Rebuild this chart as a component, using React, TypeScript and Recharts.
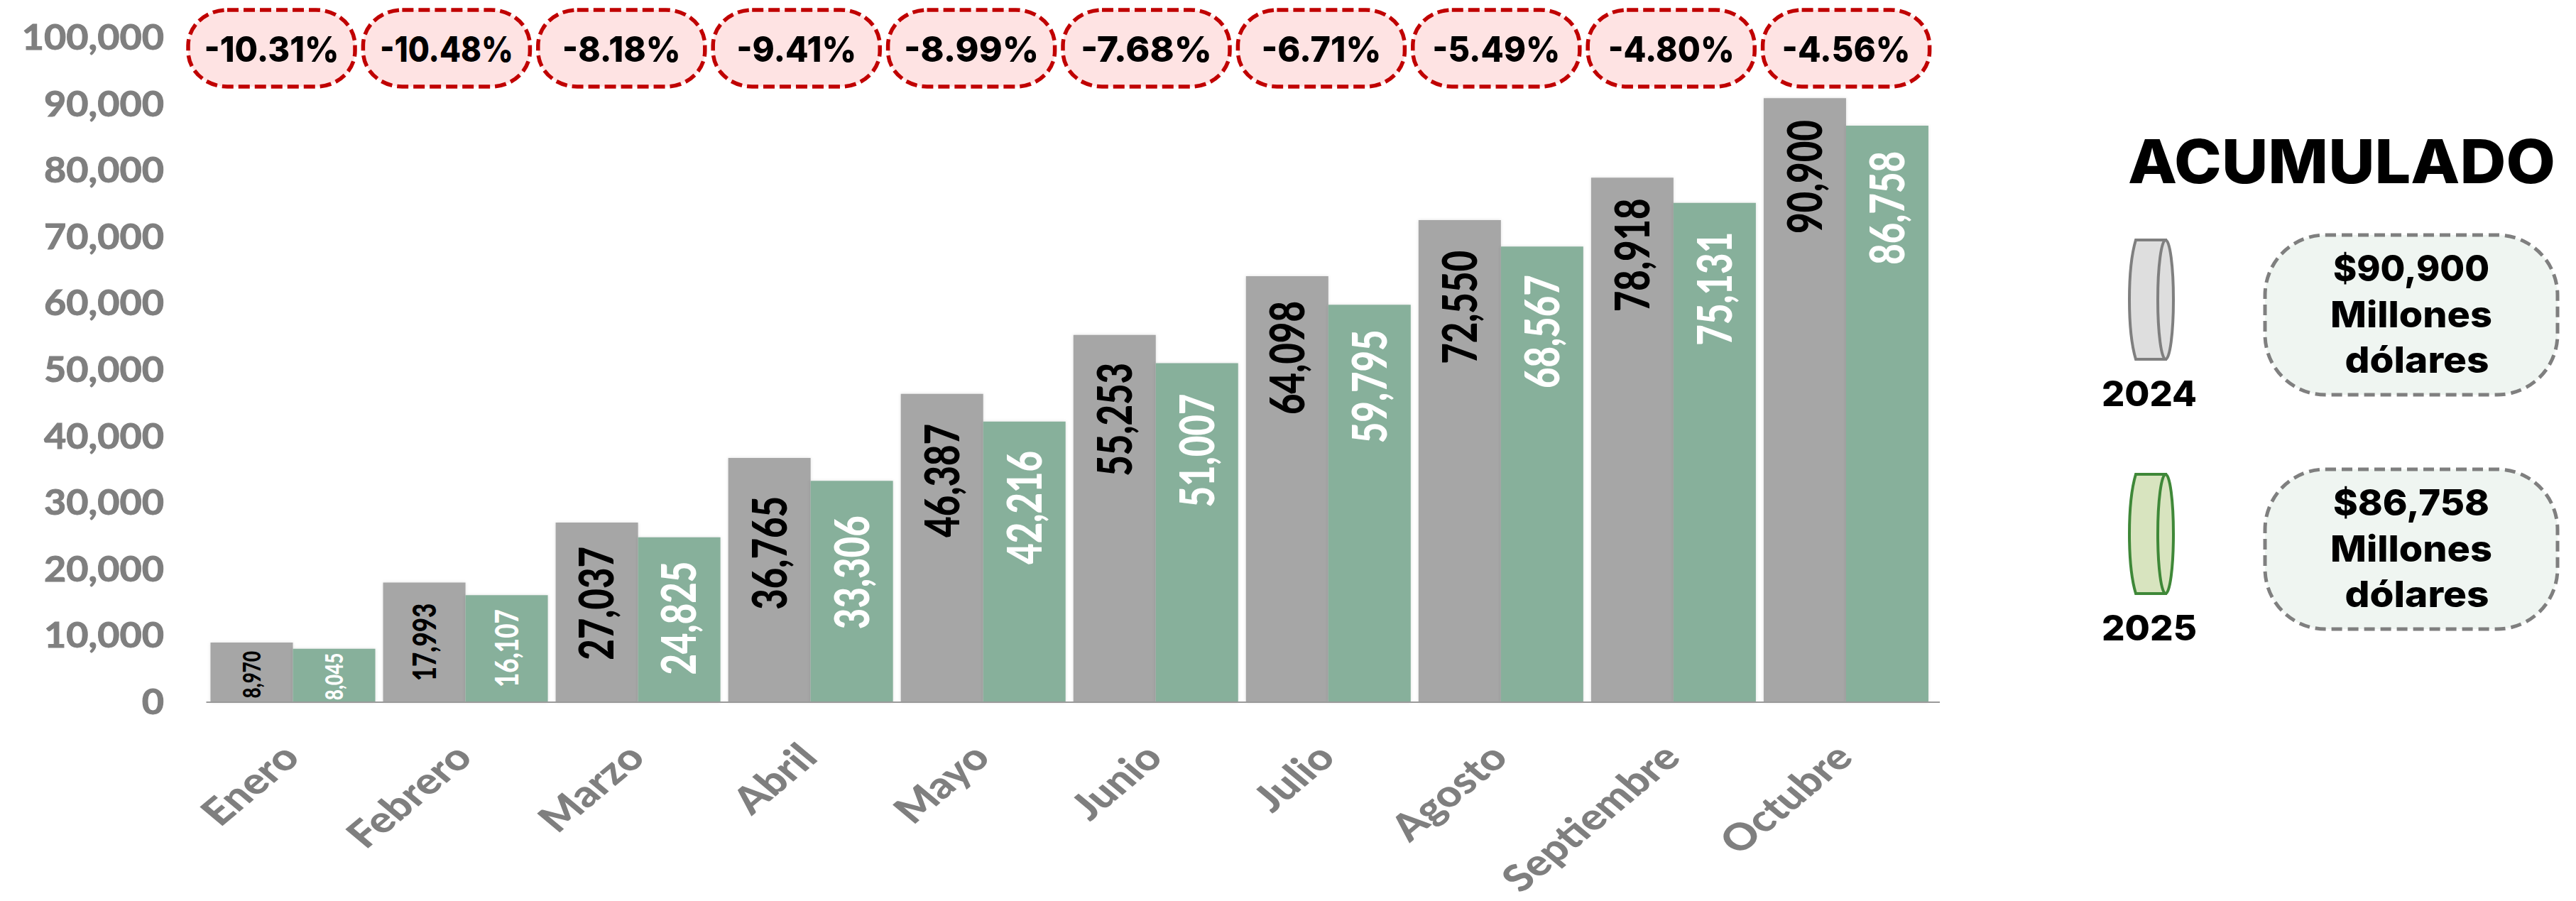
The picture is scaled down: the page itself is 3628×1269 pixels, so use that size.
import React from "react";
import { BarChart, Bar, XAxis, YAxis, LabelList } from "recharts";

const months = ["Enero", "Febrero", "Marzo", "Abril", "Mayo", "Junio", "Julio", "Agosto", "Septiembre", "Octubre"];
const values2024 = [8970, 17993, 27037, 36765, 46387, 55253, 64098, 72550, 78918, 90900];
const values2025 = [8045, 16107, 24825, 33306, 42216, 51007, 59795, 68567, 75131, 86758];
const changes = ["-10.31%", "-10.48%", "-8.18%", "-9.41%", "-8.99%", "-7.68%", "-6.71%", "-5.49%", "-4.80%", "-4.56%"];
const changeWidths = [190, 188, 167, 169, 190, 185, 169, 180, 178, 181];
const yTicks = [0, 10000, 20000, 30000, 40000, 50000, 60000, 70000, 80000, 90000, 100000];

// label styling (distance of the text from the bar top, and font size), per month
const labelGap2024 = [12, 29, 34, 54, 42, 39, 35, 43, 29, 31];
const labelGap2025 = [6, 20, 34, 49, 41, 43, 35, 40, 41, 36];
const labelFont = [26, 35, 51, 51, 51, 51, 51, 51, 51, 51];

const summary = [
  { year: "2024", amount: "$90,900", fill: "#DEDEDE", stroke: "#7F7F7F", top: 329 },
  { year: "2025", amount: "$86,758", fill: "#D8E4BF", stroke: "#3F8838", top: 659 },
];

const rows = months.map((month, i) => ({ month, a: values2024[i], b: values2025[i] }));
const fmt = (v: number) => v.toLocaleString("en-US");
const STRETCH = 1.3;
const BODY = "Lato, sans-serif";
const HEAD = "Inter, sans-serif";

const barLabel = (gaps: number[], color: string) => (p: any) => {
  const size = labelFont[p.index];
  const cx = p.x + p.width / 2;
  const base = cx + (0.72 * size * STRETCH) / 2;
  return (
    <text
      transform={`translate(${base},${p.y + gaps[p.index]}) rotate(-90) scale(1,${STRETCH})`}
      textAnchor="end"
      fontFamily={BODY}
      fontWeight={900}
      fontSize={size}
      fill={color}
    >
      {fmt(p.value)}
    </text>
  );
};

const YTick = (p: any) => (
  <text
    transform={`translate(231,${p.y + 17}) scale(1.1,1)`}
    textAnchor="end"
    fontFamily={BODY}
    fontWeight={700}
    fontSize={49}
    fill="#7F7F7F"
    stroke="#7F7F7F"
    strokeWidth={1}
  >
    {fmt(p.payload.value)}
  </text>
);

const XTick = (p: any) => (
  <text
    transform={`translate(${p.x + 13},1070) scale(1.2,1) rotate(-45)`}
    textAnchor="end"
    fontFamily={BODY}
    fontWeight={900}
    fontSize={52}
    fill="#7F7F7F"
  >
    {p.payload.value}
  </text>
);

const Can = ({ y, fill, stroke }: { y: number; fill: string; stroke: string }) => (
  <g fill={fill} stroke={stroke} strokeWidth={4}>
    <path d={`M3050 ${y} L3008 ${y} Q2999 ${y + 30} 2999 ${y + 84} Q2999 ${y + 138} 3008 ${y + 168} L3050 ${y + 168} Z`} />
    <ellipse cx={3050} cy={y + 84} rx={11} ry={84} />
  </g>
);

const Overlay = () => (
  <svg width={3628} height={1269} style={{ position: "absolute", left: 0, top: 0, pointerEvents: "none" }}>
    {changes.map((c, i) => {
      const x = 263 + i * 246.4;
      return (
        <g key={c}>
          <rect x={x + 2} y={14} width={235} height={108} rx={55} ry={50} fill="#FEE3E3" stroke="#C00000" strokeWidth={5.5} strokeDasharray="16 7" />
          <text x={x + 119.5} y={87} textAnchor="middle" fontFamily={HEAD} fontWeight={800} fontSize={50} fill="#000" textLength={changeWidths[i]} lengthAdjust="spacingAndGlyphs">
            {c}
          </text>
        </g>
      );
    })}
    <text x={3298} y={258} textAnchor="middle" fontFamily={HEAD} fontWeight={800} fontSize={85} textLength={602} lengthAdjust="spacingAndGlyphs" fill="#000">
      ACUMULADO
    </text>
    {summary.map((s) => (
      <g key={s.year}>
        <Can y={s.top + 9} fill={s.fill} stroke={s.stroke} />
        <text x={3027} y={s.top + 243} textAnchor="middle" fontFamily={HEAD} fontWeight={800} fontSize={49} textLength={134} lengthAdjust="spacingAndGlyphs" fill="#000">
          {s.year}
        </text>
        <rect x={3190} y={s.top + 2} width={412} height={225} rx={85} fill="#EFF5F1" stroke="#7F7F7F" strokeWidth={5} strokeDasharray="15 8" />
        <g fontFamily={HEAD} fontWeight={800} fontSize={51} fill="#000" textAnchor="middle">
          <text x={3396} y={s.top + 67} textLength={220} lengthAdjust="spacingAndGlyphs">{s.amount}</text>
          <text x={3396} y={s.top + 132} textLength={228} lengthAdjust="spacingAndGlyphs">Millones</text>
          <text x={3404} y={s.top + 196} textLength={203} lengthAdjust="spacingAndGlyphs">dólares</text>
        </g>
      </g>
    ))}
  </svg>
);

export default function App() {
  return (
    <div style={{ position: "absolute", left: 0, top: 0, width: 3628, height: 1269, background: "#fff" }}>
      <style>{`.recharts-bar-rectangle path{filter:drop-shadow(0 0 2px rgba(0,0,0,.12))}`}</style>
      <BarChart
        width={3628}
        height={1269}
        data={rows}
        margin={{ top: 53, right: 896, bottom: 0, left: 0.5 }}
        barCategoryGap={6}
        barGap={0}
      >
        <XAxis
          dataKey="month"
          interval={0}
          height={280}
          padding={{ left: 0, right: 11 }}
          tickLine={false}
          axisLine={{ stroke: "#9A9A9A", strokeWidth: 2 }}
          tick={<XTick />}
        />
        <YAxis width={290} domain={[0, 100000]} ticks={yTicks} axisLine={false} tickLine={false} tick={<YTick />} />
        <Bar dataKey="a" fill="#A6A6A6" isAnimationActive={false}>
          <LabelList dataKey="a" content={barLabel(labelGap2024, "#000")} />
        </Bar>
        <Bar dataKey="b" fill="#87B09B" isAnimationActive={false}>
          <LabelList dataKey="b" content={barLabel(labelGap2025, "#fff")} />
        </Bar>
      </BarChart>
      <Overlay />
    </div>
  );
}
